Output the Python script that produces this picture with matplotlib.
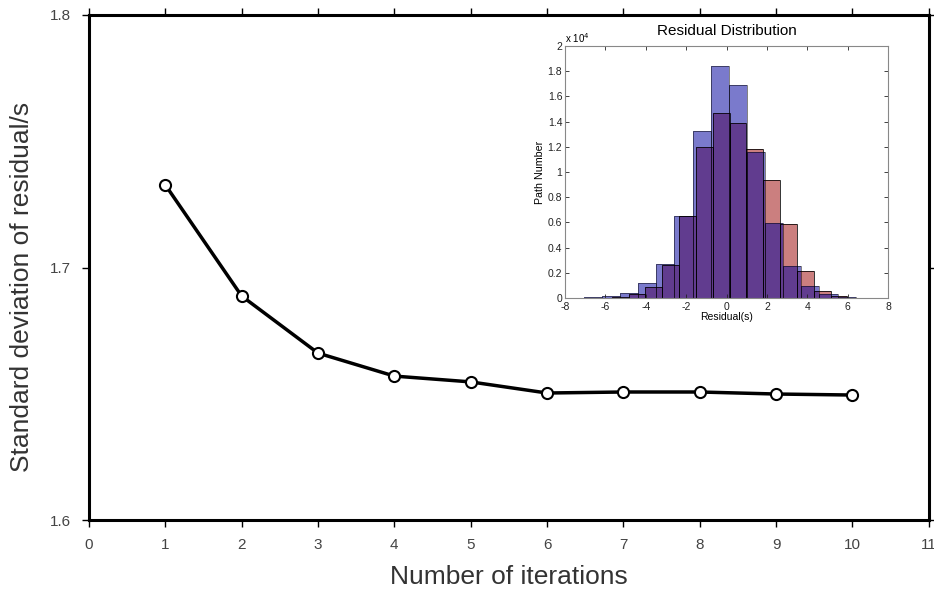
import numpy as np
import matplotlib
matplotlib.use('Agg')
from matplotlib import pyplot as plt

# 迭代次数与残差标准差
iters = [1, 2, 3, 4, 5, 6, 7, 8, 9, 10]
std_res = [1.7327, 1.6887, 1.6661, 1.6570, 1.6547, 1.6503, 1.6507, 1.6507, 1.6499, 1.6495]

# 残差分布直方图 (单位 x10^4)
blue_edges = np.linspace(-7.07, 6.40, 16)
blue_counts = [0.005, 0.016, 0.037, 0.117, 0.267, 0.65, 1.325, 1.84,
               1.69, 1.159, 0.598, 0.254, 0.095, 0.032, 0.01]
red_edges = np.linspace(-6.52, 5.99, 16)
red_counts = [0.004, 0.01, 0.032, 0.085, 0.262, 0.65, 1.20, 1.47,
              1.386, 1.185, 0.937, 0.585, 0.214, 0.058, 0.012]

plt.rcParams['font.family'] = ['Liberation Sans', 'DejaVu Sans']

fig = plt.figure(figsize=(9.34, 5.9), dpi=100)
ax = fig.add_axes([0.0953, 0.1186, 0.899, 0.856])

ax.plot(iters, std_res, color='black', lw=2.5, marker='o', markersize=8,
        markerfacecolor='white', markeredgecolor='black', markeredgewidth=1.5, zorder=3)
ax.set_xlim(0, 11)
ax.set_ylim(1.6, 1.8)
ax.set_xticks(range(0, 12))
ax.set_yticks([1.6, 1.7, 1.8])
ax.set_yticklabels(['1.6', '1.7', '1.8'])
for s in ax.spines.values():
    s.set_linewidth(2.2)
ax.tick_params(direction='out', length=5, width=1, top=True, right=True,
               labelsize=11, labelcolor='#444444', pad=8)
ax.set_xlabel('Number of iterations', fontsize=19, color='#333333')
ax.xaxis.set_label_coords(0.5, -0.089)
ax.set_ylabel('Standard deviation of residual/s', fontsize=19, color='#333333')
ax.yaxis.set_label_coords(-0.066, 0.462)

# 内嵌直方图
ins = fig.add_axes([0.605, 0.4949, 0.3458, 0.427])
ins.stairs(red_counts, red_edges, fill=True, facecolor=(0.6, 0.0, 0.0), alpha=0.5)
ins.stairs(blue_counts, blue_edges, fill=True, facecolor=(0.0, 0.0, 0.62), alpha=0.52)
ins.bar(red_edges[:-1], red_counts, width=np.diff(red_edges), align='edge',
        fill=False, edgecolor='black', lw=0.7, alpha=0.8)
ins.bar(blue_edges[:-1], blue_counts, width=np.diff(blue_edges), align='edge',
        fill=False, edgecolor='black', lw=0.7, alpha=0.5)
ins.set_xlim(-8, 8)
ins.set_ylim(0, 2)
ins.set_xticks(range(-8, 9, 2))
ins.set_xticklabels([str(v) for v in range(-8, 9, 2)])
ins.set_yticks(np.arange(0, 2.01, 0.2))
ins.set_yticklabels(['0', '0.2', '0.4', '0.6', '0.8', '1', '1.2', '1.4', '1.6', '1.8', '2'])
ins.tick_params(direction='in', length=3, width=0.6, top=True, right=True,
                labelsize=7.5, pad=2, colors='#222222')
ins.tick_params(axis='x', pad=3)
for s in ins.spines.values():
    s.set_linewidth(0.8)
    s.set_color('#888888')
ins.set_title('Residual Distribution', fontsize=11, pad=8)
ins.set_xlabel('Residual(s)', fontsize=7.5, labelpad=0)
ins.set_ylabel('Path Number', fontsize=7.7, labelpad=2)
ins.text(0.0, 1.005, r'x 10$^4$', transform=ins.transAxes, fontsize=7, va='bottom', ha='left')

fig.savefig('out.png', dpi=100)
